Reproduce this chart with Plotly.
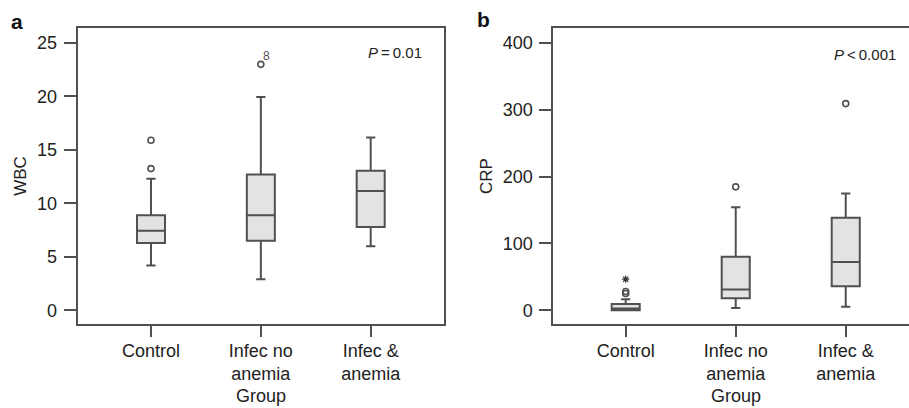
import plotly.graph_objects as go

categories = ["Control", "Infec no anemia", "Infec & anemia"]
tick_labels = ["Control", "Infec no<br>anemia", "Infec &<br>anemia"]

# Panel a: WBC
wbc_lower = [4.2, 2.9, 6.0]
wbc_q1 = [6.3, 6.5, 7.8]
wbc_median = [7.45, 8.9, 11.15]
wbc_q3 = [8.9, 12.7, 13.05]
wbc_upper = [12.3, 19.95, 16.15]
wbc_out_x = ["Control", "Control", "Infec no anemia"]
wbc_out_y = [15.9, 13.25, 23.0]

# Panel b: CRP
crp_lower = [0.0, 3.4, 5.4]
crp_q1 = [0.0, 18.0, 36.0]
crp_median = [2.5, 31.0, 72.0]
crp_q3 = [9.5, 80.0, 138.5]
crp_upper = [16.5, 154.0, 174.5]
crp_out_x = ["Control", "Control", "Infec no anemia", "Infec & anemia"]
crp_out_y = [25.0, 28.0, 184.5, 309.0]
crp_ext_x = ["Control"]
crp_ext_y = [46.5]

W, H = 909, 408
LINE = "#505050"
FILL = "#e3e3e3"
TXT = "#222222"
FONT = "Liberation Sans, Arial, Helvetica, sans-serif"
FS = 18

fig = go.Figure()

def add_box(xaxis, yaxis, lo, q1, med, q3, up):
    fig.add_trace(go.Box(
        x=categories, lowerfence=lo, q1=q1, median=med, q3=q3, upperfence=up,
        boxpoints=False, width=0.255, whiskerwidth=0.33,
        fillcolor=FILL, line=dict(color=LINE, width=2),
        xaxis=xaxis, yaxis=yaxis, showlegend=False, hoverinfo="skip"))

add_box("x", "y", wbc_lower, wbc_q1, wbc_median, wbc_q3, wbc_upper)
add_box("x2", "y2", crp_lower, crp_q1, crp_median, crp_q3, crp_upper)

fig.add_trace(go.Scatter(x=wbc_out_x, y=wbc_out_y, mode="markers",
    marker=dict(symbol="circle-open", size=6, color=LINE, line=dict(width=1.6)),
    xaxis="x", yaxis="y", showlegend=False))
fig.add_trace(go.Scatter(x=crp_out_x, y=crp_out_y, mode="markers",
    marker=dict(symbol="circle-open", size=6, color=LINE, line=dict(width=1.6)),
    xaxis="x2", yaxis="y2", showlegend=False))
fig.add_trace(go.Scatter(x=crp_ext_x, y=crp_ext_y, mode="markers",
    marker=dict(symbol="asterisk-open", size=6, color="#333", line=dict(width=1.2)),
    xaxis="x2", yaxis="y2", showlegend=False))

xcommon = dict(type="category", categoryorder="array", categoryarray=categories,
               tickmode="array", tickvals=categories, ticktext=tick_labels,
               showline=True, mirror=True, linecolor=LINE, linewidth=2,
               ticks="outside", ticklen=11, tickwidth=1.6, tickcolor=LINE,
               showgrid=False, zeroline=False, ticklabelstandoff=-2,
               tickfont=dict(size=FS, color=TXT, family=FONT))
ycommon = dict(showline=True, linecolor=LINE, linewidth=2,
               ticks="outside", ticklen=12, tickwidth=1.6, tickcolor=LINE,
               showgrid=False, zeroline=False, ticklabelstandoff=3,
               tickfont=dict(size=FS, color=TXT, family=FONT))

fig.update_layout(
    width=W, height=H, margin=dict(l=0, r=0, t=0, b=0),
    paper_bgcolor="white", plot_bgcolor="white",
    font=dict(family=FONT, color=TXT),
    xaxis=dict(domain=[77.7 / W, 444.3 / W], range=[-0.667, 2.67], anchor="y", **xcommon),
    yaxis=dict(domain=[1 - 324 / H, 1 - 28 / H], range=[-1.28, 26.4], anchor="x",
               tickvals=[0, 5, 10, 15, 20, 25], mirror=True,
               title=dict(text="WBC", font=dict(size=FS - 1, color=TXT, family=FONT), standoff=6),
               **ycommon),
    xaxis2=dict(domain=[553.3 / W, 1.0], range=[-0.658, 2.575], anchor="y2", **xcommon),
    yaxis2=dict(domain=[1 - 324 / H, 1 - 28 / H], range=[-20.5, 422], anchor="x2",
                tickvals=[0, 100, 200, 300, 400], mirror=False,
                title=dict(text="CRP", font=dict(size=FS - 1, color=TXT, family=FONT), standoff=6),
                **ycommon),
)

ann_font = dict(size=15, color=TXT, family=FONT)
fig.add_annotation(text="<i>P</i>\u2009=\u20090.01", xref="x domain", yref="y domain",
                   x=0.945, y=0.916, xanchor="right", yanchor="middle", showarrow=False, font=ann_font)
fig.add_annotation(text="<i>P</i>\u2009<\u20090.001", xref="x2 domain", yref="y2 domain",
                   x=0.97, y=0.912, xanchor="right", yanchor="middle", showarrow=False, font=ann_font)
fig.add_annotation(text="8", xref="x", yref="y", x="Infec no anemia", y=23.0,
                   xshift=6, yshift=8, showarrow=False, font=dict(size=12, color="#555555", family=FONT))
for xa in ["x", "x2"]:
    fig.add_annotation(text="Group", xref=xa, yref="paper", x="Infec no anemia", y=1 - 396 / H,
                       xanchor="center", yanchor="middle", showarrow=False,
                       font=dict(size=FS, color=TXT, family=FONT))
fig.add_annotation(text="<b>a</b>", xref="paper", yref="paper", x=17 / W, y=1 - 21 / H,
                   xanchor="center", yanchor="middle", showarrow=False,
                   font=dict(size=21, color="#111", family=FONT))
fig.add_annotation(text="<b>b</b>", xref="paper", yref="paper", x=484 / W, y=1 - 19 / H,
                   xanchor="center", yanchor="middle", showarrow=False,
                   font=dict(size=21, color="#111", family=FONT))

fig.write_html("out.html", config={"displayModeBar": False},
               post_script="document.body.style.margin='0';")
